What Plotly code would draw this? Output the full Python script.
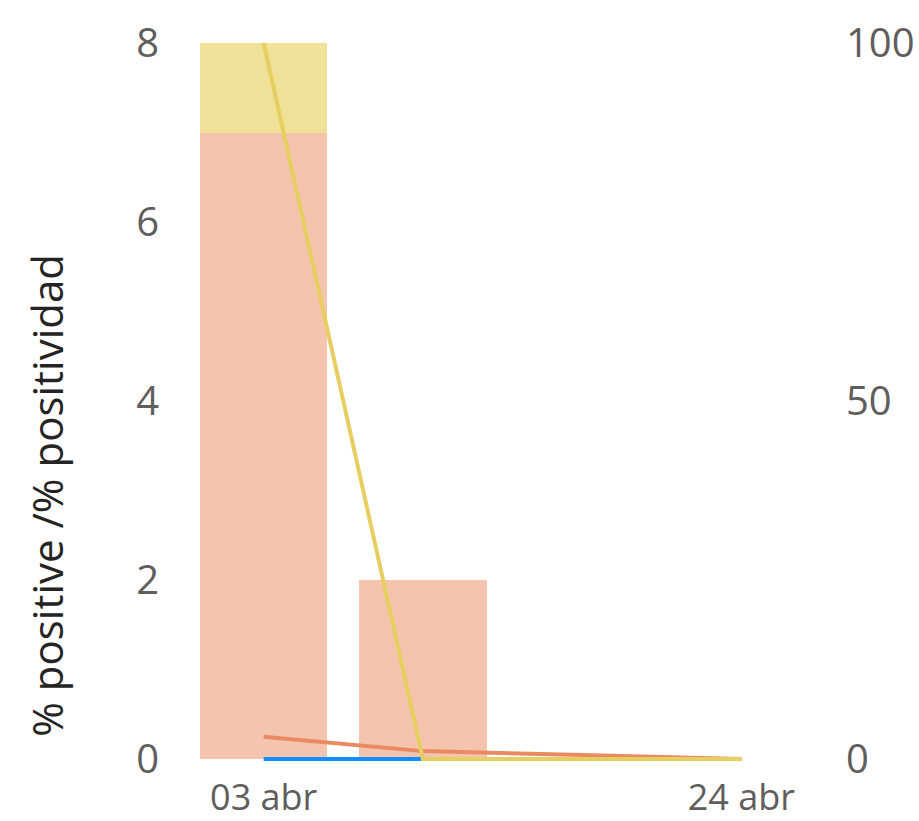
import plotly.graph_objects as go
import datetime as dt

dates = ["2022-04-03", "2022-04-10", "2022-04-17", "2022-04-24"]
bar_dates = ["2022-04-03", "2022-04-10"]
bar_orange = [7, 2]
bar_yellow = [1, 0]
line_blue = [0, 0, 0, 0]
line_orange = [3.1, 1.1, 0.55, 0]
line_yellow = [100, 0, 0, 0]
tick_vals = ["2022-04-03", "2022-04-24"]
tick_text = ["03 abr", "24 abr"]
y_title = "% positive /% positividad"

WEEK_MS = 7 * 24 * 3600 * 1000
FONT = "Open Sans"
GREY = "#605E5C"

fig = go.Figure()
fig.add_trace(go.Bar(x=bar_dates, y=bar_orange, width=0.8 * WEEK_MS,
                     marker=dict(color="rgba(230,108,55,0.4)", line=dict(width=0)),
                     showlegend=False))
fig.add_trace(go.Bar(x=bar_dates, y=bar_yellow, width=0.8 * WEEK_MS,
                     marker=dict(color="rgba(217,179,0,0.4)", line=dict(width=0)),
                     showlegend=False))
fig.add_trace(go.Scatter(x=dates, y=line_blue, mode="lines", yaxis="y2",
                         line=dict(color="#118DFF", width=4), showlegend=False))
fig.add_trace(go.Scatter(x=dates, y=line_orange, mode="lines", yaxis="y2",
                         line=dict(color="#EA8A60", width=4), showlegend=False))
fig.add_trace(go.Scatter(x=dates, y=line_yellow, mode="lines", yaxis="y2",
                         line=dict(color="#E6CF60", width=4), showlegend=False))

x0 = dt.datetime(2022, 4, 3) - dt.timedelta(days=2.8)
x1 = dt.datetime(2022, 4, 24) + dt.timedelta(days=2.8)

# small padding (3 px) so lines at 0 and 100 are not clipped
PAD = 3
t_px, b_px = 43, 62
ph = 821 - t_px - b_px
y_pad = 8 * PAD / ph
y2_pad = 100 * PAD / ph

fig.update_layout(
    width=919, height=821,
    margin=dict(l=200, r=114, t=t_px - PAD, b=b_px - PAD),
    barmode="stack",
    plot_bgcolor="white", paper_bgcolor="white",
    font=dict(family=FONT, color=GREY),
    xaxis=dict(type="date", range=[x0, x1], automargin=False,
               tickvals=tick_vals, ticktext=tick_text,
               showgrid=False, zeroline=False, showline=False,
               tickfont=dict(size=36, color=GREY), ticks="",
               ticklabelstandoff=11),
    yaxis=dict(range=[-y_pad, 8 + y_pad], tickvals=[0, 2, 4, 6, 8], automargin=False,
               showgrid=False, zeroline=False, showline=False,
               tickfont=dict(size=40, color=GREY),
               ticklabelstandoff=40),
    yaxis2=dict(range=[-y2_pad, 100 + y2_pad], tickvals=[0, 50, 100], overlaying="y",
                side="right", automargin=False,
                showgrid=False, zeroline=False, showline=False,
                tickfont=dict(size=40, color=GREY),
                ticklabelstandoff=40),
    annotations=[dict(text=y_title, textangle=-90, xref="paper", yref="paper",
                      x=-0.253, y=0.37, xanchor="center", yanchor="middle",
                      showarrow=False,
                      font=dict(size=42, color="#252423", family=FONT))],
)

fig.write_html("out.html", config={"displayModeBar": False},
               post_script="document.body.style.margin='0';document.body.style.overflow='hidden';")
